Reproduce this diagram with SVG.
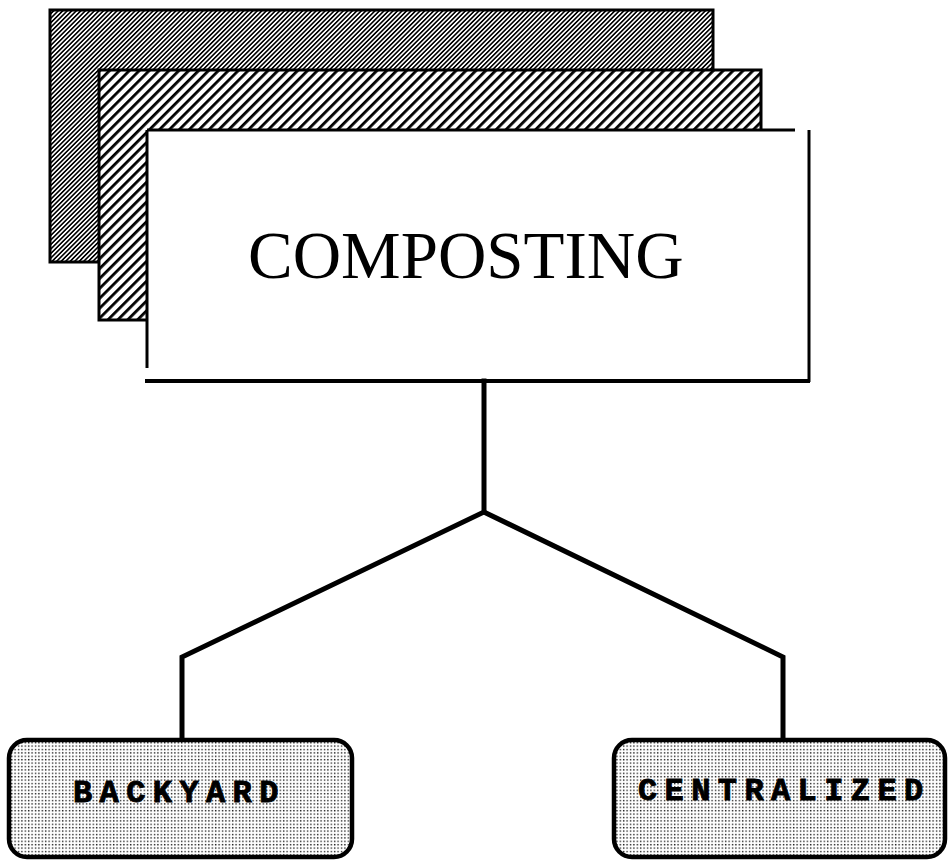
<svg xmlns="http://www.w3.org/2000/svg" width="948" height="860" viewBox="0 0 948 860">
  <defs>
    <pattern id="hatchFine" patternUnits="userSpaceOnUse" width="3.2" height="10" patternTransform="rotate(45)">
      <rect x="0" y="0" width="3.2" height="10" fill="#fff"/>
      <rect x="0" y="0" width="1.6" height="10" fill="#000"/>
    </pattern>
    <pattern id="hatchCoarse" patternUnits="userSpaceOnUse" width="7" height="10" patternTransform="rotate(45)">
      <rect x="0" y="0" width="7" height="10" fill="#fff"/>
      <rect x="0" y="0" width="2.8" height="10" fill="#000"/>
    </pattern>
    <pattern id="dots" patternUnits="userSpaceOnUse" width="3.4" height="3.4">
      <rect x="0" y="0" width="3.4" height="3.4" fill="#fff"/>
      <rect x="0.8" y="0.8" width="1.4" height="1.4" fill="#222"/>
    </pattern>
  </defs>
  <style>
    .edge { fill: none; stroke: #000; stroke-width: 5; stroke-linejoin: miter; stroke-linecap: square; }
    .line { stroke: #000; fill: none; }
    .leaf { fill: url(#dots); stroke: #000; stroke-width: 4.5; }
    .leafText { font-family: "Liberation Mono", "DejaVu Sans Mono", monospace; font-weight: bold; font-size: 32px; letter-spacing: 7.4px; fill: #000; stroke: #000; stroke-width: 0.9; }
    .title { font-family: "Liberation Serif", "DejaVu Serif", serif; font-size: 67px; fill: #000; }
  </style>
  <rect width="948" height="860" fill="#fff"/>

  <g id="composting">
    <rect x="50" y="10" width="663" height="252" fill="url(#hatchFine)" stroke="#000" stroke-width="3"/>
    <rect x="99" y="70" width="662" height="250" fill="url(#hatchCoarse)" stroke="#000" stroke-width="3"/>
    <rect x="147" y="130" width="662" height="251" fill="#fff"/>
    <line class="line" x1="147" y1="130" x2="795" y2="130" stroke-width="3"/>
    <line class="line" x1="147" y1="130" x2="147" y2="368" stroke-width="3"/>
    <line class="line" x1="809" y1="130" x2="809" y2="382" stroke-width="3"/>
    <line class="line" x1="145" y1="381" x2="810" y2="381" stroke-width="4"/>
    <text class="title" x="248" y="278">COMPOSTING</text>
  </g>

  <g id="connectors">
    <polyline class="edge" points="484,381 484,512 182,657 182,739"/>
    <polyline class="edge" points="484,512 783,657 783,739"/>
  </g>

  <g id="backyard">
    <rect class="leaf" x="9" y="740" width="343" height="117" rx="18" ry="18"/>
    <text class="leafText" x="73" y="802">BACKYARD</text>
  </g>

  <g id="centralized">
    <rect class="leaf" x="614" y="740" width="331" height="117" rx="18" ry="18"/>
    <text class="leafText" x="638" y="800">CENTRALIZED</text>
  </g>
</svg>
